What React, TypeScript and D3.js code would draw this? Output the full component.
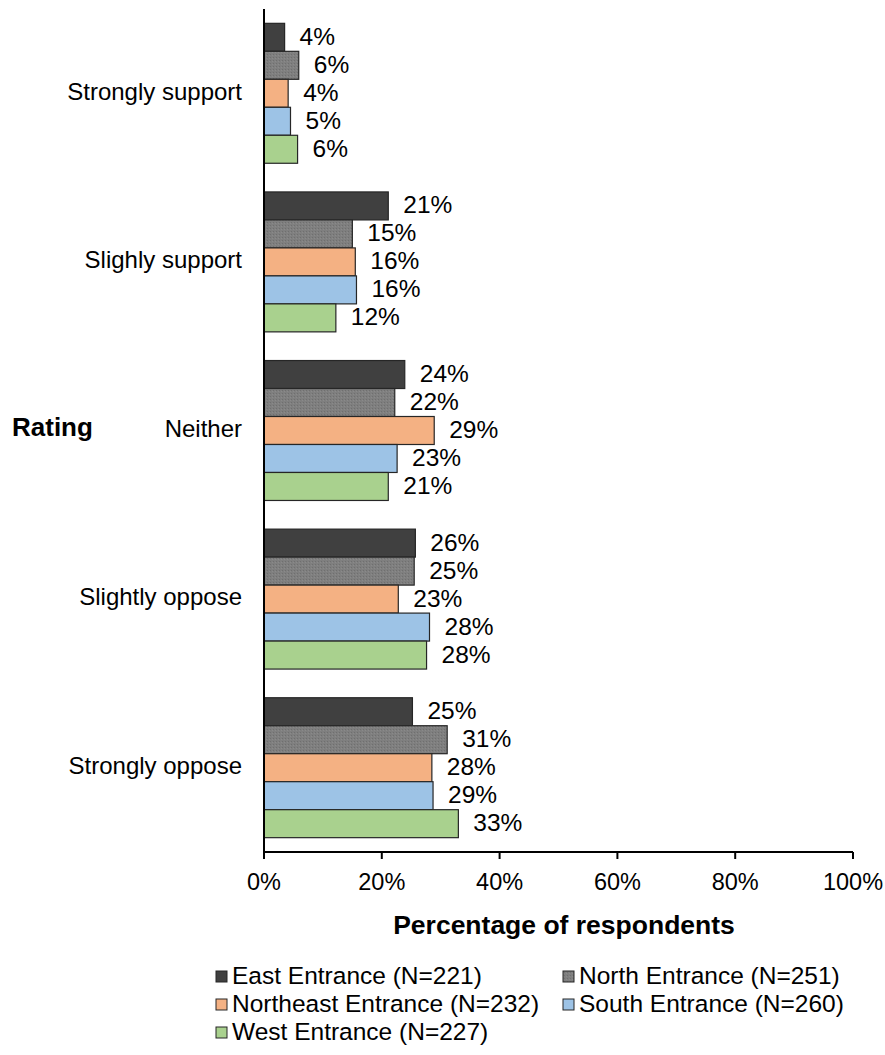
import React from "react";
import * as d3 from "d3";

const categories = ["Strongly support", "Slighly support", "Neither", "Slightly oppose", "Strongly oppose"];
const seriesNames = [
  "East Entrance (N=221)",
  "North Entrance (N=251)",
  "Northeast Entrance (N=232)",
  "South Entrance (N=260)",
  "West Entrance (N=227)",
];
const seriesColors = ["#404040", "#7f7f7f", "#f4b183", "#9dc3e6", "#a9d18e"];
const east = [3.5, 21.1, 23.9, 25.7, 25.2];
const north = [5.9, 15.0, 22.2, 25.5, 31.1];
const northeast = [4.1, 15.5, 28.9, 22.8, 28.5];
const south = [4.5, 15.7, 22.6, 28.1, 28.7];
const west = [5.7, 12.2, 21.1, 27.6, 33.0];
const labels = [
  ["4%", "21%", "24%", "26%", "25%"],
  ["6%", "15%", "22%", "25%", "31%"],
  ["4%", "16%", "29%", "23%", "28%"],
  ["5%", "16%", "23%", "28%", "29%"],
  ["6%", "12%", "21%", "28%", "33%"],
];
const xTicks = [0, 20, 40, 60, 80, 100];

const series = [east, north, northeast, south, west];
const FONT = "Liberation Sans, Arial, sans-serif";

export default function App() {
  const W = 885, H = 1055;
  const x = d3.scaleLinear().domain([0, 100]).range([264, 853]);
  const y = d3.scaleBand<string>().domain(categories).range([9, 852]).paddingInner(0.17).paddingOuter(0.085);
  const inner = d3.scaleBand<number>().domain(d3.range(5)).range([0, y.bandwidth()]);
  const legendPos = [
    [216, 977], [563, 977], [216, 1005], [563, 1005], [216, 1033],
  ];
  return (
    <svg width={W} height={H} style={{ position: "absolute", left: 0, top: 0, background: "#fff" }}>
      <defs>
        <pattern id="stip" width="3" height="3" patternUnits="userSpaceOnUse">
          <rect width="3" height="3" fill="#7f7f7f" />
          <rect width="1" height="1" fill="#6f6f6f" />
          <rect x="2" y="1" width="1" height="1" fill="#8a8a8a" />
        </pattern>
      </defs>
      {categories.map((c, ci) =>
        series.map((s, si) => {
          const y0 = (y(c) as number) + (inner(si) as number);
          const w = x(s[ci]) - x(0);
          return (
            <g key={c + si}>
              <rect x={x(0)} y={y0} width={w} height={inner.bandwidth()}
                fill={si === 1 ? "url(#stip)" : seriesColors[si]} stroke="#262626" strokeWidth={1.2} />
              <text x={x(s[ci]) + 15} y={y0 + inner.bandwidth() / 2 + 1} dominantBaseline="middle"
                fontFamily={FONT} fontSize={24.5} fill="#000">{labels[si][ci]}</text>
            </g>
          );
        })
      )}
      {categories.map((c) => (
        <text key={c} x={242} y={(y(c) as number) + y.bandwidth() / 2} textAnchor="end" dominantBaseline="middle"
          fontFamily={FONT} fontSize={24} fill="#000">{c}</text>
      ))}
      <line x1={x(0)} x2={x(0)} y1={9} y2={853} stroke="#000" strokeWidth={2} />
      <line x1={x(0)} x2={x(100)} y1={852} y2={852} stroke="#000" strokeWidth={2} />
      {xTicks.map((t) => (
        <g key={t}>
          <line x1={x(t)} x2={x(t)} y1={852} y2={859} stroke="#000" strokeWidth={2} />
          <text x={x(t)} y={884} textAnchor="middle" dominantBaseline="middle" fontFamily={FONT} fontSize={23.5} fill="#000">{t}%</text>
        </g>
      ))}
      <text x={12} y={429} dominantBaseline="middle" fontFamily={FONT} fontSize={26} fontWeight="bold">Rating</text>
      <text x={564} y={927} textAnchor="middle" dominantBaseline="middle" fontFamily={FONT} fontSize={26.5} fontWeight="bold">Percentage of respondents</text>
      {seriesNames.map((n, i) => (
        <g key={n}>
          <rect x={legendPos[i][0]} y={legendPos[i][1] - 6} width={11} height={11}
            fill={i === 1 ? "url(#stip)" : seriesColors[i]} stroke="#262626" strokeWidth={1} />
          <text x={legendPos[i][0] + 16} y={legendPos[i][1] + 1} dominantBaseline="middle" fontFamily={FONT} fontSize={24.5}>{n}</text>
        </g>
      ))}
    </svg>
  );
}
